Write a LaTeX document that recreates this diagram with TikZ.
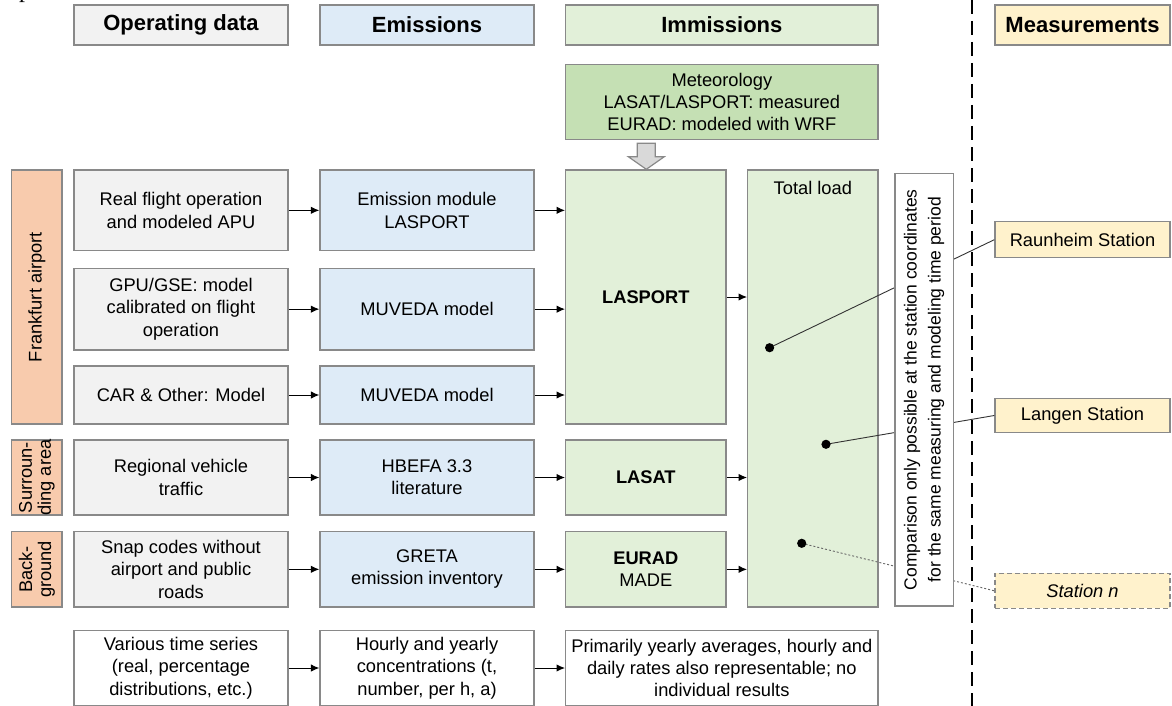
\documentclass[tikz,border=0pt]{standalone}
\usepackage{fontspec}
\setmainfont{Liberation Sans}
\newfontfamily\serifp{Liberation Serif}
\usetikzlibrary{arrows.meta}
\definecolor{bordergray}{HTML}{898989}
\definecolor{opfill}{HTML}{F2F2F2}
\definecolor{emfill}{HTML}{DEEBF7}
\definecolor{imfill}{HTML}{E2F0D9}
\definecolor{metfill}{HTML}{C5E0B4}
\definecolor{measfill}{HTML}{FFF2CC}
\definecolor{orfill}{HTML}{F8CBAD}
\definecolor{arrfill}{HTML}{D9D9D9}
\newcommand\fs{\fontsize{18.3}{22.3}\selectfont}
\newcommand\hfs{\fontsize{22}{26}\selectfont\bfseries}
\newcommand\bx[7]{\node[box,#2,minimum width=#5pt,minimum height=#6pt] (#1) at (#3,#4) {#7};}
\tikzset{
  box/.style={draw=bordergray, line width=1.4pt, inner sep=0pt, align=center, font=\fs, text=black},
  opbox/.style={fill=opfill},
  embox/.style={fill=emfill},
  imbox/.style={fill=imfill},
  metbox/.style={fill=metfill},
  measbox/.style={fill=measfill},
  orbox/.style={fill=orfill},
  whitebox/.style={fill=white},
  hdr/.style={font=\hfs},
  sidelabel/.style={rotate=90, font=\fontsize{18.3}{19}\selectfont, align=center, inner sep=0pt},
  flow/.style={line width=1pt, draw=black, -{Latex[length=8.5pt,width=7.5pt]}},
  link/.style={line width=0.9pt, draw=black!80},
  dotlink/.style={line width=0.9pt, draw=black!60, dash pattern=on 2pt off 2pt},
  dotmark/.style={fill=black},
}
\begin{document}
\begin{tikzpicture}[x=1pt,y=-1pt]
\useasboundingbox (0,0) rectangle (1172,706);
% stray caption fragment (cut at the top edge, as in the reference)
\node[font=\serifp\fontsize{24}{26}\selectfont, anchor=base west, inner sep=0pt] (pfrag) at (19,-2) {p};
% headers
\bx{hOp}{opbox,hdr}{181}{25}{214}{40}{Operating data}
\bx{hEm}{embox,hdr}{427}{25}{214}{40}{Emissions}
\bx{hIm}{imbox,hdr}{721.85}{25}{312.3}{40}{Immissions}
\bx{hMe}{measbox,hdr}{1082.5}{25}{175}{40}{Measurements}
% meteorology
\bx{met}{metbox}{721.85}{101.8}{312.3}{75}{Meteorology\\LASAT/LASPORT: measured\\EURAD: modeled with WRF}
% grey block arrow
\filldraw[fill=arrfill, draw=bordergray, line width=1.2pt]
  (637.3,143.3) -- (655.3,143.3) -- (655.3,156.7) -- (664.3,156.7) -- (646.3,169.3)
  -- (628.3,156.7) -- (637.3,156.7) -- cycle;
% orange side labels
\bx{fra}{orbox}{36.85}{297}{50.3}{254}{}
\node[sidelabel] (fraT) at (fra.center) {Frankfurt airport};
\bx{sur}{orbox}{36.85}{477.5}{50.3}{75}{}
\node[sidelabel] (surT) at (sur.center) {Surroun-\\ding area};
\bx{bg}{orbox}{36.85}{569.35}{50.3}{75.3}{}
\node[sidelabel] (bgT) at (bg.center) {Back-\\ground};
% operating data column
\bx{o1}{opbox}{181}{210.35}{214}{80.7}{Real flight operation\\and modeled APU}
\bx{o2}{opbox}{181}{309.15}{214}{81.7}{GPU/GSE: model\\calibrated on flight\\operation}
\bx{o3}{opbox}{181}{395}{214}{58}{CAR \& Other: Model}
\bx{o4}{opbox}{181}{477.5}{214}{75}{Regional vehicle\\traffic}
\bx{o5}{opbox}{181}{569.35}{214}{75.3}{Snap codes without\\airport and public\\roads}
\bx{o6}{whitebox}{181}{668}{214}{74.6}{Various time series\\(real, percentage\\distributions, etc.)}
% emissions column
\bx{e1}{embox}{427}{210.35}{214}{80.7}{Emission module\\LASPORT}
\bx{e2}{embox}{427}{309.15}{214}{81.7}{MUVEDA model}
\bx{e3}{embox}{427}{395}{214}{58}{MUVEDA model}
\bx{e4}{embox}{427}{477.5}{214}{75}{HBEFA 3.3\\literature}
\bx{e5}{embox}{427}{569.35}{214}{75.3}{GRETA\\emission inventory}
\bx{e6}{whitebox}{427}{668}{214}{74.6}{Hourly and yearly\\concentrations (t,\\number, per h, a)}
% immissions column
\bx{las}{imbox}{645.85}{297}{160.3}{254}{\textbf{LASPORT}}
\bx{lasat}{imbox}{645.85}{477.5}{160.3}{75}{\textbf{LASAT}}
\bx{eur}{imbox}{645.85}{569.35}{160.3}{75.3}{\textbf{EURAD}\\MADE}
\bx{i6}{whitebox}{721.85}{668}{312.3}{74.6}{Primarily yearly averages, hourly and\\daily rates also representable; no\\individual results}
\bx{tot}{imbox}{812.85}{388.5}{130.3}{437}{}
\node[font=\fs] (totT) at (812.85,188) {Total load};
% flows
\draw[flow] (o1.east) -- (e1.west);
\draw[flow] (o2.east) -- (e2.west);
\draw[flow] (o3.east) -- (e3.west);
\draw[flow] (o4.east) -- (e4.west);
\draw[flow] (o5.east) -- (e5.west);
\draw[flow] (o6.east) -- (e6.west);
\draw[flow] (e1.east) -- (e1.east -| las.west);
\draw[flow] (e2.east) -- (e2.east -| las.west);
\draw[flow] (e3.east) -- (e3.east -| las.west);
\draw[flow] (e4.east) -- (lasat.west);
\draw[flow] (e5.east) -- (eur.west);
\draw[flow] (e6.east) -- (e6.east -| i6.west);
\draw[flow] (las.east) -- (las.east -| tot.west);
\draw[flow] (lasat.east) -- (lasat.east -| tot.west);
\draw[flow] (eur.east) -- (eur.east -| tot.west);
% measurement stations
\bx{rau}{measbox}{1082.5}{239.7}{175}{36}{Raunheim Station}
\bx{lan}{measbox}{1082.5}{415.5}{175}{34.4}{Langen Station}
\node[box, measbox, dash pattern=on 5pt off 3pt, minimum width=175pt, minimum height=35pt, font=\fs\itshape] (stn) at (1082.5,590.8) {Station n};
% dots and links
\coordinate (d1) at (769.6,347.7);
\coordinate (d2) at (826,444.3);
\coordinate (d3) at (801.7,543.3);
\draw[link] (d1) -- (rau.west);
\draw[link] (d2) -- (lan.west);
\draw[dotlink] (d3) -- (stn.west);
\fill[dotmark] (d1) circle (4.6pt);
\fill[dotmark] (d2) circle (4.6pt);
\fill[dotmark] (d3) circle (4.6pt);
% comparison box
\bx{cmp}{whitebox}{924.15}{389.65}{58.3}{432.7}{}
\node[rotate=90, font=\fontsize{17.5}{24}\selectfont, align=center] (cmpT) at (cmp.center) {Comparison only possible at the station coordinates\\for the same measuring and modeling time period};
% separator
\coordinate (sepTop) at (971.5,0);
\coordinate (sepBot) at (971.5,706);
\draw[line width=2pt, dash pattern=on 14pt off 7pt] (sepTop) -- (sepBot);
\end{tikzpicture}
\end{document}
